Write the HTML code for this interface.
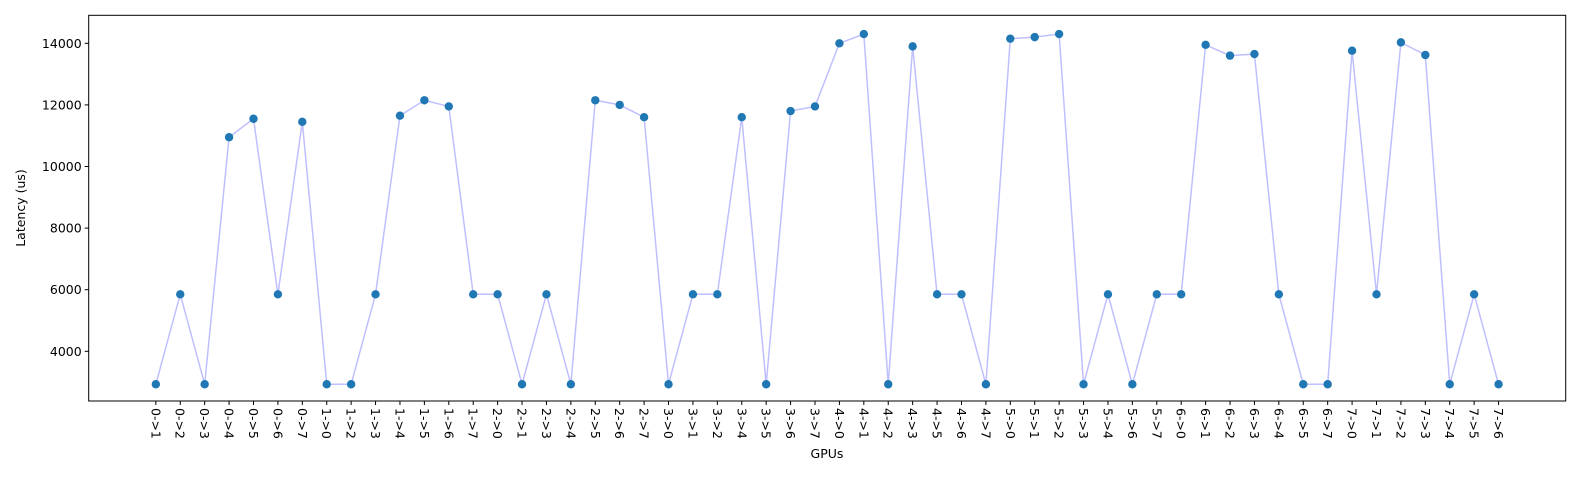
<!DOCTYPE html>
<html><head><meta charset="utf-8"><style>
html,body{margin:0;padding:0;background:#fff;}
svg{display:block;font-family:"DejaVu Sans","Liberation Sans",sans-serif;}
</style></head><body>
<svg id="chart" width="1580" height="480" xmlns="http://www.w3.org/2000/svg">
<rect x="0" y="0" width="1580" height="480" fill="#fff"/>
<polyline id="series-line" fill="none" stroke="#0000ff" stroke-opacity="0.25" stroke-width="1.5"/>
<g id="points"></g>
<rect x="88.7" y="15.3" width="1477" height="385.7" fill="none" stroke="#000" stroke-width="1"/>
<g id="yticks"></g>
<g id="xticks"></g>
<text x="827" y="458" font-size="12.5" text-anchor="middle">GPUs</text>
<text transform="translate(25,208) rotate(-90)" font-size="12.5" text-anchor="middle">Latency (us)</text>
</svg>
<script>
const categories = ["0->1","0->2","0->3","0->4","0->5","0->6","0->7","1->0","1->2","1->3","1->4","1->5","1->6","1->7","2->0","2->1","2->3","2->4","2->5","2->6","2->7","3->0","3->1","3->2","3->4","3->5","3->6","3->7","4->0","4->1","4->2","4->3","4->5","4->6","4->7","5->0","5->1","5->2","5->3","5->4","5->6","5->7","6->0","6->1","6->2","6->3","6->4","6->5","6->7","7->0","7->1","7->2","7->3","7->4","7->5","7->6"];
const latency = [2930,5850,2930,10950,11550,5850,11450,2930,2930,5850,11650,12150,11950,5850,5850,2930,5850,2930,12150,12000,11600,2930,5850,5850,11600,2930,11800,11950,14000,14300,2930,13900,5850,5850,2930,14150,14200,14300,2930,5850,2930,5850,5850,13950,13600,13650,5850,2930,2930,13760,5850,14030,13620,2930,5850,2930];
const yTicks = [4000,6000,8000,10000,12000,14000];

const NS = "http://www.w3.org/2000/svg";
const L = 88.7, R = 1565.7, T = 15.3, B = 401;
const n = categories.length;
const xMin = -0.05*(n-1), xMax = (n-1)*1.05;
const yMin = 2386, yMax = 14909;
function xs(i){ return L + (i - xMin)/(xMax - xMin)*(R - L); }
function ys(v){ return B - (v - yMin)/(yMax - yMin)*(B - T); }

const pts = latency.map((v,i)=>xs(i).toFixed(2)+","+ys(v).toFixed(2)).join(" ");
document.getElementById("series-line").setAttribute("points", pts);

const pg = document.getElementById("points");
latency.forEach((v,i)=>{
  const c = document.createElementNS(NS,"circle");
  c.setAttribute("cx", xs(i)); c.setAttribute("cy", ys(v)); c.setAttribute("r", 4.2);
  c.setAttribute("fill", "#1f77b4");
  
  
  pg.appendChild(c);
});

const yg = document.getElementById("yticks");
yTicks.forEach(t=>{
  const y = ys(t);
  const ln = document.createElementNS(NS,"line");
  ln.setAttribute("x1", L-4); ln.setAttribute("x2", L); ln.setAttribute("y1", y); ln.setAttribute("y2", y);
  ln.setAttribute("stroke","#000");
  
  
  yg.appendChild(ln);
  const tx = document.createElementNS(NS,"text");
  tx.setAttribute("x", L-7); tx.setAttribute("y", y+4.5); tx.setAttribute("text-anchor","end"); tx.setAttribute("font-size","12.5");
  tx.textContent = t;
  
  
  yg.appendChild(tx);
});

const xg = document.getElementById("xticks");
categories.forEach((c,i)=>{
  const x = xs(i);
  const ln = document.createElementNS(NS,"line");
  ln.setAttribute("x1", x); ln.setAttribute("x2", x); ln.setAttribute("y1", B); ln.setAttribute("y2", B+4);
  ln.setAttribute("stroke","#000");
  
  
  xg.appendChild(ln);
  const tx = document.createElementNS(NS,"text");
  tx.setAttribute("transform", "translate(" + (x-4.5) + "," + (B+7) + ") rotate(90)");
  tx.setAttribute("font-size","12.5");
  tx.textContent = c;
  
  
  xg.appendChild(tx);
});
</script>
</body></html>
